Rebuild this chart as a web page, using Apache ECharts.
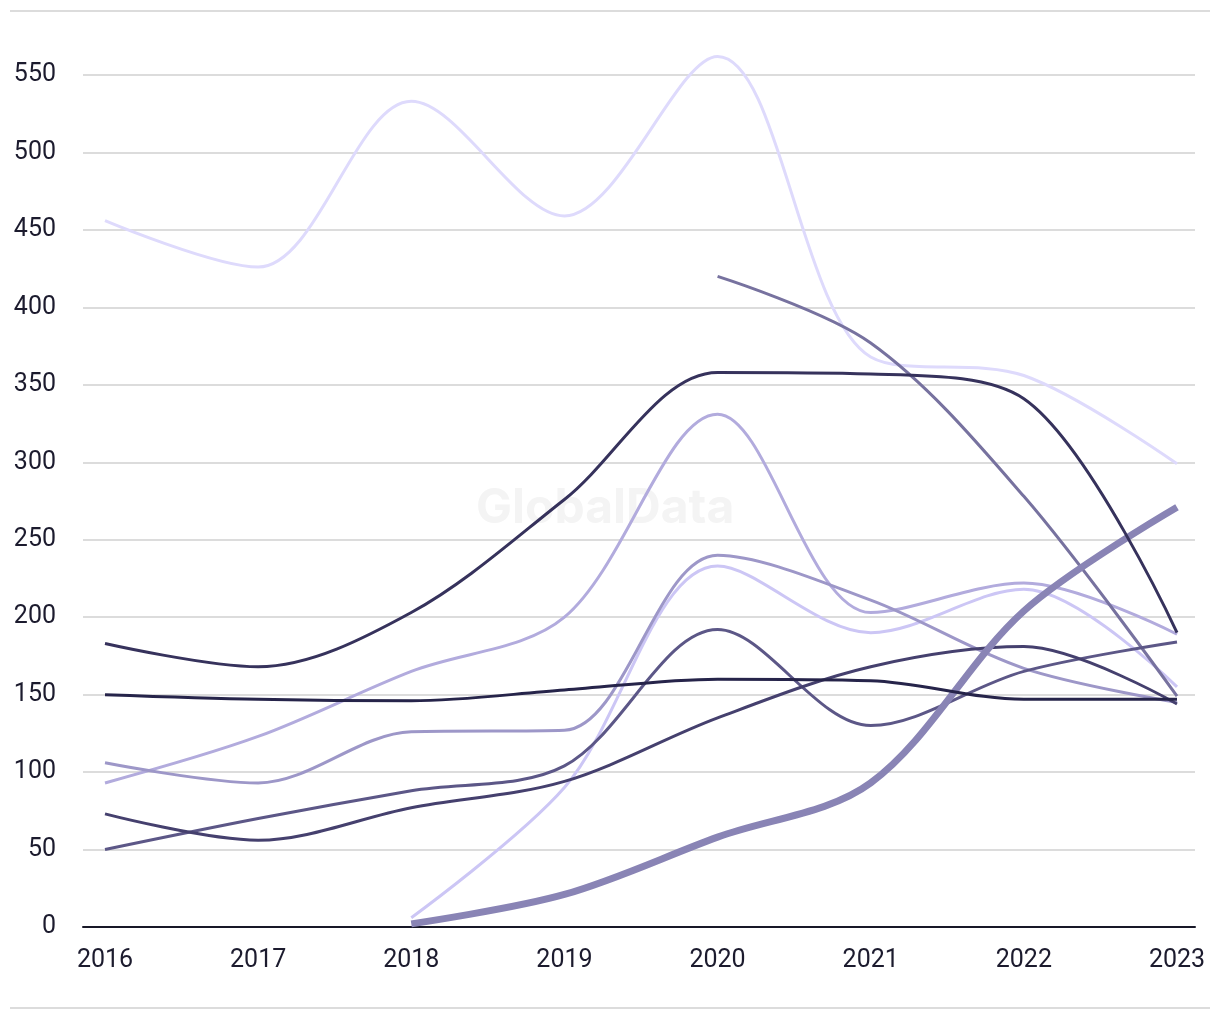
<!DOCTYPE html>
<html>
<head>
<meta charset="utf-8">
<script src="https://cdn.jsdelivr.net/npm/echarts@6/dist/echarts.min.js"></script>
<style>
html,body{margin:0;padding:0;background:#fff;}
#chart{width:1220px;height:1020px;}
</style>
</head>
<body>
<div id="chart"></div>
<script>
const years = ['2016','2017','2018','2019','2020','2021','2022','2023'];
const yTicks = [0,50,100,150,200,250,300,350,400,450,500,550];

const sLightest = [456, 426, 533, 459, 562, 368, 356, 299];
const sMedium420 = [null, null, null, null, 420, 377, 278, 149];
const sNavy = [183, 168, 203, 276, 358, 357, 341, 190];
const sLightPurple = [93, 123, 165, 200, 331, 203, 222, 189];
const sLavender = [106, 93, 126, 127, 240, 211, 167, 145];
const sLilac = [null, null, 6, 90, 233, 190, 218, 155];
const sDarkest = [150, 147, 146, 153, 160, 159, 147, 147];
const sSlateA = [50, 70, 88, 104, 192, 130, 165, 184];
const sSlateB = [73, 56, 77, 94, 135, 168, 181, 144];
const sThick = [null, null, 2, 21, 58, 93, 204, 271];

const seriesDefs = [
  {data: sLightest, color: '#dedafc', width: 3},
  {data: sLightPurple, color: '#b2abdd', width: 3},
  {data: sLilac, color: '#ccc6f5', width: 3},
  {data: sLavender, color: '#9d97c8', width: 3},
  {data: sMedium420, color: '#77729f', width: 3},
  {data: sSlateA, color: '#5c5787', width: 3},
  {data: sSlateB, color: '#45406e', width: 3},
  {data: sThick, color: '#8984b5', width: 7},
  {data: sDarkest, color: '#26244a', width: 3},
  {data: sNavy, color: '#36325c', width: 3}
];

const chart = echarts.init(document.getElementById('chart'), null, {renderer: 'canvas'});
const FONT = 'Roboto';
const gridTop = -2.45, gridBottom = 93;

chart.setOption({
  animation: false,
  backgroundColor: '#ffffff',
  graphic: [
    {type: 'line', shape: {x1: 10, y1: 11, x2: 1210, y2: 11}, style: {stroke: '#dcdcdc', lineWidth: 2}, z: 0},
    {type: 'line', shape: {x1: 10, y1: 1008, x2: 1210, y2: 1008}, style: {stroke: '#dcdcdc', lineWidth: 2}, z: 0},
    {type: 'text', left: 476, top: 485, z: 1,
      style: {text: 'GlobalData', font: 'bold 48px Inter', fill: '#f4f4f4'}}
  ],
  grid: [
    {left: 83, right: 25, top: gridTop, bottom: gridBottom, outerBoundsMode: 'none', containLabel: false},
    {left: 105, right: 43, top: gridTop, bottom: gridBottom, outerBoundsMode: 'none', containLabel: false}
  ],
  xAxis: [
    {type: 'value', gridIndex: 0, min: 0, max: 1, show: true,
      axisLine: {show: true, onZero: false, lineStyle: {color: '#181828', width: 2}},
      axisTick: {show: false}, axisLabel: {show: false}, splitLine: {show: false}},
    {type: 'category', gridIndex: 1, data: years, boundaryGap: false,
      axisLine: {show: false}, axisTick: {show: false}, splitLine: {show: false},
      axisLabel: {color: '#1c1b2e', fontFamily: FONT, fontSize: 25, margin: 21}}
  ],
  yAxis: [
    {type: 'value', gridIndex: 0, min: 0, max: 600, interval: 50,
      axisLine: {show: false}, axisTick: {show: false},
      axisLabel: {color: '#1c1b2e', fontFamily: FONT, fontSize: 25, margin: 27, showMaxLabel: false,
        formatter: v => yTicks.includes(v) ? String(v) : ''},
      splitLine: {show: true, lineStyle: {color: '#dcdcdc', width: 2}}},
    {type: 'value', gridIndex: 1, min: 0, max: 600, show: false, splitLine: {show: false}}
  ],
  series: seriesDefs.map((d, i) => ({
    type: 'line', xAxisIndex: 1, yAxisIndex: 1,
    data: d.data, smooth: 0.33, showSymbol: false, symbol: 'none',
    connectNulls: false, z: 3 + i,
    lineStyle: {color: d.color, width: d.width, cap: 'butt', join: 'round'},
    emphasis: {disabled: true}
  }))
});
</script>
</body>
</html>
